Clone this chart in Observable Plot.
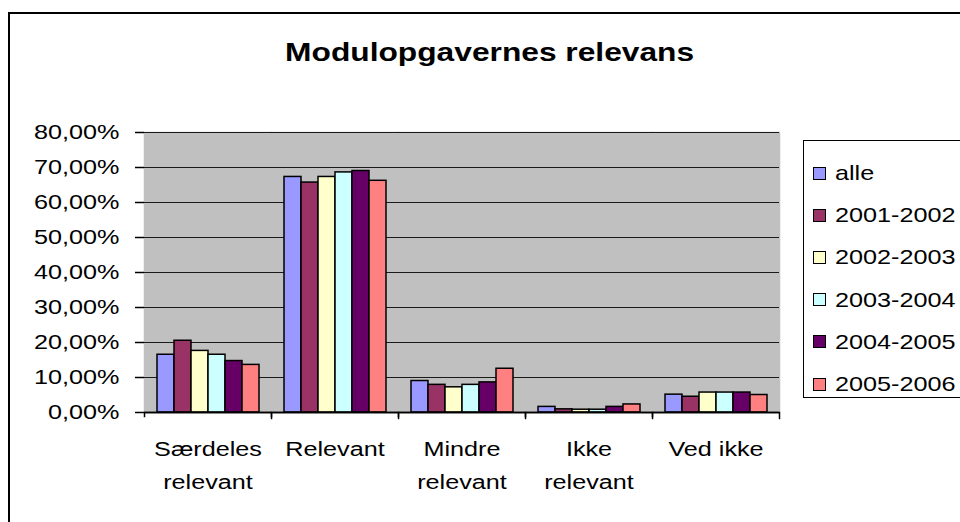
<!DOCTYPE html>
<html>
<head>
<meta charset="utf-8">
<script src="https://cdn.jsdelivr.net/npm/d3@7"></script>
<script src="https://cdn.jsdelivr.net/npm/@observablehq/plot@0.6"></script>
<style>
  html, body { margin: 0; padding: 0; background: #fff; }
  #wrap { position: relative; width: 960px; height: 522px; overflow: hidden; font-family: "Liberation Sans", Arial, sans-serif; }
  #border { position: absolute; left: 8px; top: 12px; width: 980px; height: 540px; border-left: 2px solid #000; border-top: 2px solid #000; }
  #title { position: absolute; left: 0; width: 980px; top: 39px; text-align: center; font-weight: bold; font-size: 26px; line-height: 26px; }
  #title span { display: inline-block; transform: scaleX(1.22); }
  #chart { position: absolute; left: 0; top: 0; }
  #legend { position: absolute; left: 803px; top: 140px; width: 170px; height: 258px; border: 1px solid #000; box-sizing: border-box; background: #fff; }
  .row { position: absolute; left: 9px; height: 20px; display: flex; align-items: center; white-space: nowrap; }
  .sw { width: 11px; height: 11px; border: 1px solid #000; }
  .lt { font-size: 21px; margin-left: 9px; transform: scaleX(1.2); transform-origin: left center; }
</style>
</head>
<body>
<div id="wrap">
  <div id="border"></div>
  <div id="title"><span>Modulopgavernes relevans</span></div>
  <div id="chart"></div>
  <div id="legend"></div>
</div>
<script>
// ---- data ----
const categories = ["Særdeles relevant", "Relevant", "Mindre relevant", "Ikke relevant", "Ved ikke"];
const labelLine1 = ["Særdeles", "Relevant", "Mindre", "Ikke", "Ved ikke"];
const labelLine2 = ["relevant", "", "relevant", "relevant", ""];
const series = ["alle", "2001-2002", "2002-2003", "2003-2004", "2004-2005", "2005-2006"];
const colors = ["#9999FF", "#993366", "#FFFFCC", "#CCFFFF", "#660066", "#FF8080"];
const valAlle = [16.5, 67.3, 9.0, 1.6, 5.1];
const val2001 = [20.5, 65.7, 7.9, 0.9, 4.5];
const val2002 = [17.6, 67.3, 7.2, 0.8, 5.7];
const val2003 = [16.5, 68.6, 7.9, 0.8, 5.7];
const val2004 = [14.7, 69.0, 8.6, 1.6, 5.7];
const val2005 = [13.6, 66.2, 12.5, 2.3, 5.0];
const yTicks = [0, 10, 20, 30, 40, 50, 60, 70, 80];

const seriesValues = [valAlle, val2001, val2002, val2003, val2004, val2005];
const data = [];
categories.forEach((c, i) => series.forEach((s, j) => data.push({cat: c, series: s, value: seriesValues[j][i]})));
const labelData = categories.map((c, i) => ({cat: c, l1: labelLine1[i], l2: labelLine2[i]}));
const fmt = d => d.toFixed(2).replace(".", ",") + "%";

const marginLeft = 142, marginRight = 180, marginTop = 132, marginBottom = 110;
const facetW = (960 - marginLeft - marginRight) / categories.length;
const tickLen = 6;

const plot = Plot.plot({
  width: 960,
  height: 522,
  marginLeft, marginRight, marginTop, marginBottom,
  style: {fontFamily: "'Liberation Sans', Arial, sans-serif", fontSize: "21px", background: "transparent", color: "#000", overflow: "visible"},
  fx: {domain: categories, padding: 0, axis: null, label: null},
  x: {domain: series, paddingInner: 0, paddingOuter: 0.716, axis: null},
  y: {domain: [0, 80], axis: null},
  color: {domain: series, range: colors},
  marks: [
    Plot.frame({fill: "#c0c0c0", stroke: "#c0c0c0", strokeWidth: 1.5}),
    Plot.gridY(yTicks, {stroke: "#1a1a1a", strokeOpacity: 1, strokeWidth: 1}),
    Plot.axisY({anchor: "right", ticks: [], line: true, stroke: "#808080", strokeWidth: 1.5, tickSize: 0, label: null}),
    Plot.barY(data, {fx: "cat", x: "series", y: "value", fill: "series", stroke: "#000", strokeWidth: 1.5, insetLeft: 0, insetRight: 0}),
    // category boundary tick marks below the axis (rect per facet, bottom edge hidden by dash pattern)
    Plot.frame({insetTop: 522 - marginTop - marginBottom, insetBottom: -tickLen, stroke: "#000", strokeWidth: 1.5,
      strokeDasharray: `${facetW + tickLen},${facetW},${tickLen}`}),
    Plot.ruleY([0], {stroke: "#000", strokeWidth: 1.5}),
    Plot.axisY({anchor: "left", ticks: yTicks, tickSize: 9, tickPadding: 16, tickFormat: fmt, line: true, stroke: "#000", strokeWidth: 1.5, label: null, fill: "#000"}),
    Plot.text(labelData, {fx: "cat", text: "l1", frameAnchor: "bottom", lineAnchor: "middle", dy: 37, fill: "#000"}),
    Plot.text(labelData, {fx: "cat", text: "l2", frameAnchor: "bottom", lineAnchor: "middle", dy: 70, fill: "#000"})
  ]
});

// Horizontally stretch text like the original export
for (const t of plot.querySelectorAll("text")) {
  const x = +t.getAttribute("x") || 0;
  if (t.hasAttribute("x")) t.removeAttribute("x");
  const tr = t.getAttribute("transform") || "";
  t.setAttribute("transform", `${tr} translate(${x},0) scale(1.2,1)`);
}
document.getElementById("chart").appendChild(plot);

// legend
const legend = document.getElementById("legend");
series.forEach((s, i) => {
  const row = document.createElement("div");
  row.className = "row";
  row.style.top = (22 + i * 42.2) + "px";
  const sw = document.createElement("div");
  sw.className = "sw";
  sw.style.background = colors[i];
  const lt = document.createElement("span");
  lt.className = "lt";
  lt.textContent = s;
  row.appendChild(sw); row.appendChild(lt);
  legend.appendChild(row);
});
</script>
</body>
</html>
